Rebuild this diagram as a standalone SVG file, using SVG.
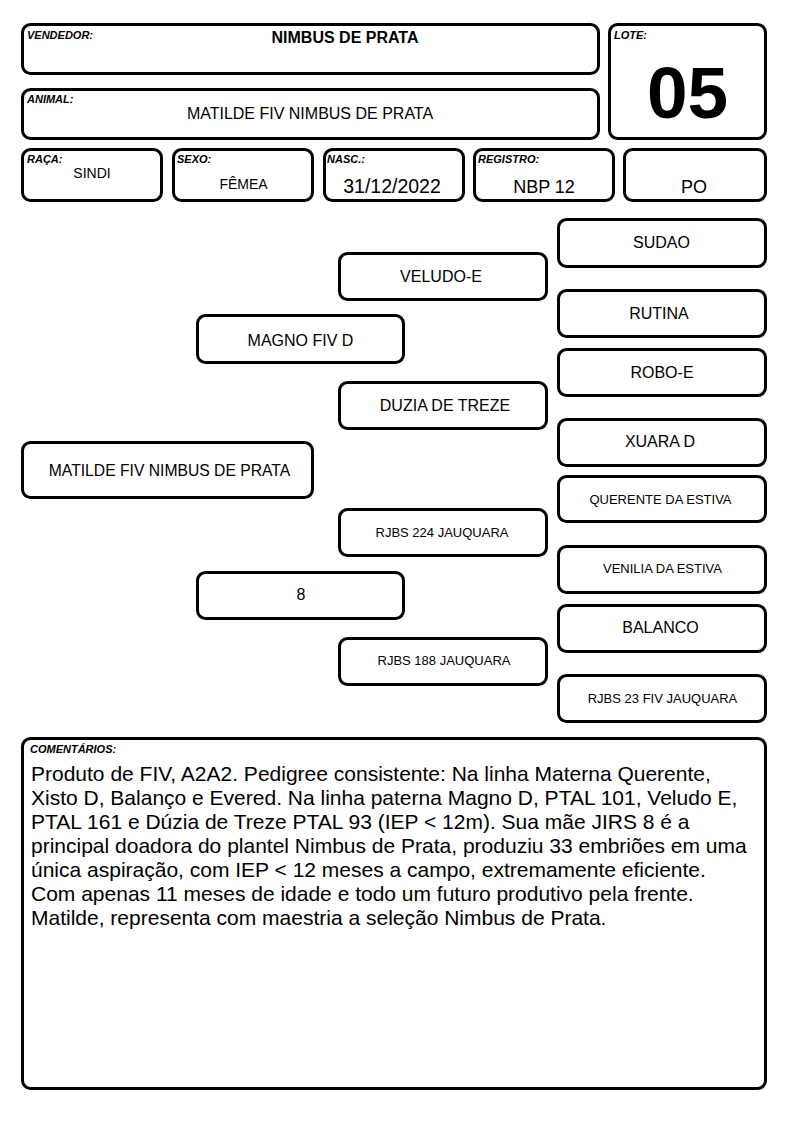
<svg xmlns="http://www.w3.org/2000/svg" width="794" height="1123" viewBox="0 0 794 1123">
<style>
.box{fill:#fff;stroke:#000;stroke-width:3}
.lbl{font-family:"Liberation Sans",Arial,sans-serif;font-size:11px;font-weight:bold;font-style:italic;fill:#000}
.t16{font-family:"Liberation Sans",Arial,sans-serif;font-size:16px;fill:#000;text-anchor:middle}
.t14{font-family:"Liberation Sans",Arial,sans-serif;font-size:14px;fill:#000;text-anchor:middle}
.t18{font-family:"Liberation Sans",Arial,sans-serif;font-size:18px;fill:#000;text-anchor:middle}
.t13{font-family:"Liberation Sans",Arial,sans-serif;font-size:13px;fill:#000;text-anchor:middle}
.cm{font-family:"Liberation Sans",Arial,sans-serif;font-size:21px;fill:#000}
</style>
<rect width="794" height="1123" fill="#fff"/>
<g id="vendedor">
<rect class="box" x="22.5" y="24.5" width="576" height="49" rx="8"/>
<text class="lbl" x="27" y="39">VENDEDOR:</text>
<text class="t16" x="345" y="43" font-weight="bold">NIMBUS DE PRATA</text>
</g>
<g id="animal">
<rect class="box" x="22.5" y="89.5" width="576" height="49" rx="8"/>
<text class="lbl" x="27" y="103">ANIMAL:</text>
<text class="t16" x="310" y="119">MATILDE FIV NIMBUS DE PRATA</text>
</g>
<g id="lote">
<rect class="box" x="609.5" y="24.5" width="156" height="114" rx="8"/>
<text class="lbl" x="614" y="39">LOTE:</text>
<text x="687.5" y="118" font-family="Liberation Sans,Arial,sans-serif" font-size="73" font-weight="bold" text-anchor="middle">05</text>
</g>
<g id="raca">
<rect class="box" x="22.5" y="149.5" width="139" height="51" rx="8"/>
<text class="lbl" x="27" y="163">RAÇA:</text>
<text class="t14" x="92" y="178">SINDI</text>
</g>
<g id="sexo">
<rect class="box" x="173.5" y="149.5" width="139" height="51" rx="8"/>
<text class="lbl" x="177" y="163">SEXO:</text>
<text class="t14" x="243.5" y="189">FÊMEA</text>
</g>
<g id="nasc">
<rect class="box" x="324.5" y="149.5" width="139" height="51" rx="8"/>
<text class="lbl" x="327" y="163">NASC.:</text>
<text class="t18" x="392" y="193" style="font-size:19.5px">31/12/2022</text>
</g>
<g id="registro">
<rect class="box" x="474.5" y="149.5" width="139" height="51" rx="8"/>
<text class="lbl" x="478" y="163">REGISTRO:</text>
<text class="t18" x="544" y="193">NBP 12</text>
</g>
<g id="po">
<rect class="box" x="624.5" y="149.5" width="141" height="51" rx="8"/>
<text class="t18" x="694" y="193">PO</text>
</g>
<g id="connectors"/>
<g id="n-matilde">
<rect class="box" x="22.5" y="442.5" width="290" height="55" rx="8"/>
<text class="t16" x="169.5" y="476" style="font-size:15.7px">MATILDE FIV NIMBUS DE PRATA</text>
</g>
<g id="n-magno">
<rect class="box" x="197.5" y="315.5" width="206" height="47" rx="8"/>
<text class="t16" x="300.5" y="346">MAGNO FIV D</text>
</g>
<g id="n-8">
<rect class="box" x="197.5" y="572.5" width="206" height="46" rx="8"/>
<text class="t16" x="301" y="600">8</text>
</g>
<g id="n-veludo">
<rect class="box" x="339.5" y="253.5" width="207" height="46" rx="8"/>
<text class="t16" x="441" y="282">VELUDO-E</text>
</g>
<g id="n-duzia">
<rect class="box" x="339.5" y="382.5" width="207" height="46" rx="8"/>
<text class="t16" x="445" y="411">DUZIA DE TREZE</text>
</g>
<g id="n-rjbs224">
<rect class="box" x="339.5" y="509.5" width="207" height="46" rx="8"/>
<text class="t13" x="442" y="537">RJBS 224 JAUQUARA</text>
</g>
<g id="n-rjbs188">
<rect class="box" x="339.5" y="638.5" width="207" height="46" rx="8"/>
<text class="t13" x="444" y="665">RJBS 188 JAUQUARA</text>
</g>
<g id="n-sudao">
<rect class="box" x="558.5" y="219.5" width="207" height="47" rx="8"/>
<text class="t16" x="661.5" y="248">SUDAO</text>
</g>
<g id="n-rutina">
<rect class="box" x="558.5" y="290.5" width="207" height="46" rx="8"/>
<text class="t16" x="659" y="319">RUTINA</text>
</g>
<g id="n-robo">
<rect class="box" x="558.5" y="349.5" width="207" height="46" rx="8"/>
<text class="t16" x="662" y="378">ROBO-E</text>
</g>
<g id="n-xuara">
<rect class="box" x="558.5" y="419.5" width="207" height="46" rx="8"/>
<text class="t16" x="660" y="447">XUARA D</text>
</g>
<g id="n-querente">
<rect class="box" x="558.5" y="476.5" width="207" height="45" rx="8"/>
<text class="t13" x="660.5" y="504">QUERENTE DA ESTIVA</text>
</g>
<g id="n-venilia">
<rect class="box" x="558.5" y="546.5" width="207" height="46" rx="8"/>
<text class="t13" x="662.5" y="573">VENILIA DA ESTIVA</text>
</g>
<g id="n-balanco">
<rect class="box" x="558.5" y="605.5" width="207" height="46" rx="8"/>
<text class="t16" x="660.5" y="633">BALANCO</text>
</g>
<g id="n-rjbs23">
<rect class="box" x="558.5" y="675.5" width="207" height="46" rx="8"/>
<text class="t13" x="662.5" y="703">RJBS 23 FIV JAUQUARA</text>
</g>
<g id="comentarios">
<rect class="box" x="22.5" y="738.5" width="743" height="350" rx="8"/>
<text class="lbl" x="30" y="753">COMENTÁRIOS:</text>
<text class="cm" x="31" y="781">Produto de FIV, A2A2. Pedigree consistente: Na linha Materna Querente,</text>
<text class="cm" x="31" y="805">Xisto D, Balanço e Evered. Na linha paterna Magno D, PTAL 101, Veludo E,</text>
<text class="cm" x="31" y="829">PTAL 161 e Dúzia de Treze PTAL 93 (IEP &lt; 12m). Sua mãe JIRS 8 é a</text>
<text class="cm" x="31" y="853">principal doadora do plantel Nimbus de Prata, produziu 33 embriões em uma</text>
<text class="cm" x="31" y="877">única aspiração, com IEP &lt; 12 meses a campo, extremamente eficiente.</text>
<text class="cm" x="31" y="901">Com apenas 11 meses de idade e todo um futuro produtivo pela frente.</text>
<text class="cm" x="31" y="925">Matilde, representa com maestria a seleção Nimbus de Prata.</text>
</g>
</svg>
